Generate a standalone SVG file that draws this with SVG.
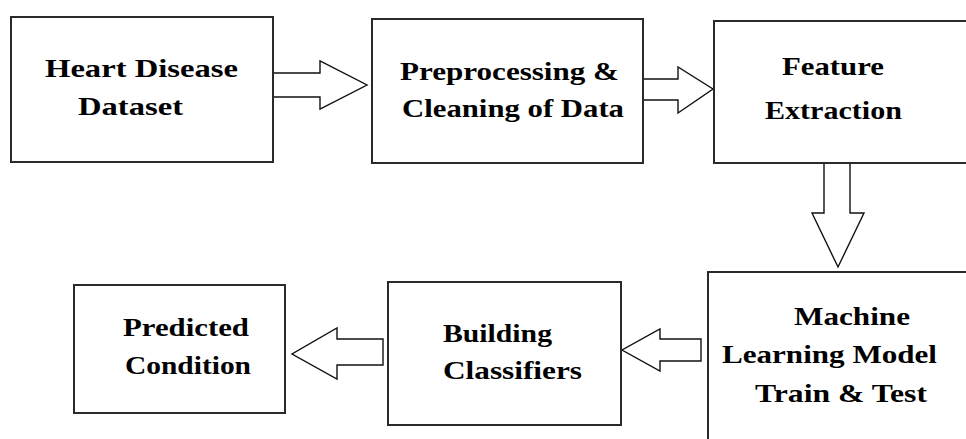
<svg xmlns="http://www.w3.org/2000/svg" width="966" height="439" viewBox="0 0 966 439">
<style>
.box{fill:#fff;stroke:#2a2a2a;stroke-width:2}
.arr{fill:#fff;stroke:#111;stroke-width:1.4;stroke-linejoin:miter}
.t{font-family:"Liberation Serif","Times New Roman",serif;font-weight:bold;font-size:25px;fill:#000}
</style>
<rect width="966" height="439" fill="#fff"/>
<g id="connectors">
<path class="arr" d="M273,73 H320 V61 L367,85 L320,109 V97 H273"/>
<path class="arr" d="M643,79 H678 V67 L713,89 L678,113 V100 H643"/>
<path class="arr" d="M824,163 V213 H812 L838,267 L864,213 H850 V163"/>
<path class="arr" d="M701,339 H660 V329 L622,350 L660,371 V361 H701 Z"/>
<path class="arr" d="M383,339 H337 V328 L292,354 L337,379 V365 H383 Z"/>
</g>
<g id="heart">
<rect class="box" x="11" y="17" width="262" height="145"/>
<text class="t" x="45" y="77" textLength="193" lengthAdjust="spacingAndGlyphs">Heart Disease</text>
<text class="t" x="78" y="115" textLength="105" lengthAdjust="spacingAndGlyphs">Dataset</text>
</g>
<g id="preprocess">
<rect class="box" x="372" y="19" width="271" height="144"/>
<text class="t" x="400" y="80" textLength="219" lengthAdjust="spacingAndGlyphs">Preprocessing &amp;</text>
<text class="t" x="402" y="117" textLength="222" lengthAdjust="spacingAndGlyphs">Cleaning of Data</text>
</g>
<g id="feature">
<rect class="box" x="714" y="21" width="260" height="142"/>
<text class="t" x="782" y="75" textLength="102" lengthAdjust="spacingAndGlyphs">Feature</text>
<text class="t" x="765" y="119" textLength="137" lengthAdjust="spacingAndGlyphs">Extraction</text>
</g>
<g id="ml">
<rect class="box" x="708" y="272" width="266" height="180"/>
<text class="t" x="794" y="325" textLength="116" lengthAdjust="spacingAndGlyphs">Machine</text>
<text class="t" x="722" y="363" textLength="215" lengthAdjust="spacingAndGlyphs">Learning Model</text>
<text class="t" x="755" y="402" textLength="172" lengthAdjust="spacingAndGlyphs">Train &amp; Test</text>
</g>
<g id="building">
<rect class="box" x="388" y="282" width="233" height="143"/>
<text class="t" x="443" y="342" textLength="109" lengthAdjust="spacingAndGlyphs">Building</text>
<text class="t" x="443" y="379" textLength="139" lengthAdjust="spacingAndGlyphs">Classifiers</text>
</g>
<g id="predicted">
<rect class="box" x="74" y="285" width="211" height="128"/>
<text class="t" x="123" y="336" textLength="126" lengthAdjust="spacingAndGlyphs">Predicted</text>
<text class="t" x="125" y="374" textLength="126" lengthAdjust="spacingAndGlyphs">Condition</text>
</g>
</svg>
